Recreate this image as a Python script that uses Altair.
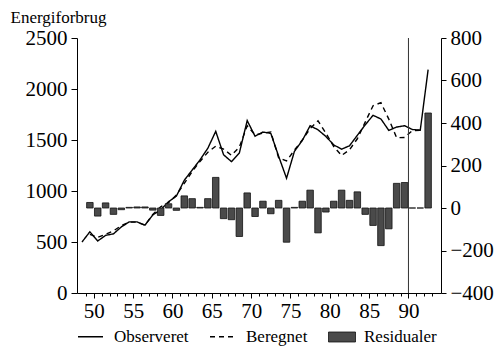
import altair as alt
import pandas as pd

FONT = "Liberation Serif"

year = [48.5, 49.5, 50.5, 51.5, 52.5, 53.5, 54.5, 55.5, 56.5, 57.5,
        58.5, 59.5, 60.5, 61.5, 62.5, 63.5, 64.5, 65.5, 66.5, 67.5,
        68.5, 69.5, 70.5, 71.5, 72.5, 73.5, 74.5, 75.5, 76.5, 77.5,
        78.5, 79.5, 80.5, 81.5, 82.5, 83.5, 84.5, 85.5, 86.5, 87.5,
        88.5, 89.5, 90.5, 91.5, 92.5]

observeret = [500, 600, 510, 565, 580, 648, 697, 697, 665, 765,
              815, 895, 950, 1105, 1205, 1305, 1420, 1585, 1355, 1288,
              1372, 1690, 1537, 1578, 1565, 1340, 1125, 1388, 1495, 1640,
              1600, 1535, 1452, 1410, 1443, 1546, 1648, 1742, 1706, 1594,
              1627, 1640, 1603, 1596, 2190]

beregnet = [None, 575, 545, 575, 610, 660, 695, 695, 665, 770,
            845, 885, 960, 1075, 1190, 1290, 1380, 1440, 1410, 1350,
            1430, 1640, 1550, 1568, 1578, 1325, 1295, 1400, 1500, 1612,
            1688, 1568, 1436, 1348, 1404, 1512, 1675, 1836, 1866, 1705,
            1522, 1525, 1592, 1596, None]

residualer = [None, 26, -38, 24, -30, -8, 3, 5, 5, -10,
              -35, 20, -11, 57, 44, 3, 44, 144, -50, -55,
              -134, 71, -40, 32, -27, 36, -161, 3, 32, 84,
              -117, -19, 32, 84, 36, 76, -30, -82, -177, -98,
              116, 120, 0, 0, 447]

major_ticks = [50, 55, 60, 65, 70, 75, 80, 85, 90]
minor_ticks = list(range(49, 94))
left_ticks = [0, 500, 1000, 1500, 2000, 2500]
right_ticks = [-400, -200, 0, 200, 400, 600, 800]
split_year = [90]

rows = []
for x, o, b in zip(year, observeret, beregnet):
    rows.append({"year": x, "series": "Observeret", "value": o})
    if b is not None:
        rows.append({"year": x, "series": "Beregnet", "value": b})
df_lines = pd.DataFrame(rows)

df_bars = pd.DataFrame({
    "year": [x for x, r in zip(year, residualer) if r is not None],
    "resid": [r for r in residualer if r is not None],
})
df_bars["kind"] = "Residualer"

df_split = pd.DataFrame({"year": split_year})

x_scale = alt.Scale(domain=[48.5, 93.5], nice=False, zero=False)

lines = alt.Chart(df_lines).mark_line(color="black", strokeWidth=1.4).encode(
    x=alt.X("year:Q", scale=x_scale,
            axis=alt.Axis(orient="bottom", values=major_ticks, tickSize=5,
                          labelFont=FONT, labelFontSize=21, labelPadding=2,
                          title=None, format="d",
                          labelFlush=False, labelOverlap=False)),
    y=alt.Y("value:Q", scale=alt.Scale(domain=[0, 2500], nice=False),
            axis=alt.Axis(orient="left", values=left_ticks, tickSize=6,
                          labelFont=FONT, labelFontSize=21, labelPadding=4,
                          format="d",
                          title="Energiforbrug", titleAngle=0,
                          titleAlign="left", titleBaseline="alphabetic",
                          titleX=-67, titleY=-16, titleFont=FONT,
                          titleFontSize=17,
                          titleFontWeight="normal", titleColor="black",
                          labelFlush=False, labelOverlap=False)),
    strokeDash=alt.StrokeDash(
        "series:N",
        scale=alt.Scale(domain=["Observeret", "Beregnet"], range=[[1, 0], [5, 4]]),
        legend=alt.Legend(orient="none", legendX=0, legendY=285,
                          direction="horizontal", title=None,
                          symbolType="stroke", symbolSize=625,
                          symbolStrokeWidth=1.5, symbolStrokeColor="black",
                          labelOffset=10, columnPadding=18,
                          labelFont=FONT, labelFontSize=17,
                          labelColor="black")),
)

bars = alt.Chart(df_bars).mark_bar(size=6.5, stroke="#111111", strokeWidth=0.8).encode(
    x=alt.X("year:Q", scale=x_scale,
            axis=alt.Axis(orient="bottom", values=minor_ticks, labels=False,
                          tickSize=3, domain=False, title=None)),
    y=alt.Y("resid:Q", scale=alt.Scale(domain=[-400, 800], nice=False),
            axis=alt.Axis(orient="right", values=right_ticks, tickSize=5,
                          labelFont=FONT, labelFontSize=21, labelPadding=4,
                          title=None, format="d",
                          labelFlush=False, labelOverlap=False)),
    color=alt.Color("kind:N", scale=alt.Scale(range=["#4a4a4a"]),
                    legend=alt.Legend(orient="none", legendX=251, legendY=285,
                                      direction="horizontal", title=None,
                                      symbolType="M-1,-0.37H1V0.37H-1Z",
                                      symbolSize=729, symbolStrokeColor="#111111",
                                      symbolStrokeWidth=0.8, symbolOpacity=1,
                                      labelOffset=8, labelFont=FONT,
                                      labelFontSize=17, labelColor="black")),
)

vline = alt.Chart(df_split).mark_rule(color="#333333", strokeWidth=1).encode(
    x=alt.X("year:Q", scale=x_scale, axis=None)
)

chart = alt.layer(lines, bars, vline).resolve_scale(
    y="independent"
).resolve_axis(
    x="independent"
).properties(
    width=364, height=255,
    autosize=alt.AutoSizeParams(type="none"),
    padding={"left": 77, "top": 38, "right": 54, "bottom": 54},
).configure_view(
    stroke=None
).configure_axis(
    labelFont=FONT, titleFont=FONT, labelColor="black",
    domainColor="black", tickColor="black", grid=False,
    domainWidth=1, tickWidth=1,
).configure_legend(
    labelFont=FONT, labelColor="black",
)

chart.save("out.html", embed_options={"renderer": "svg", "actions": False})
